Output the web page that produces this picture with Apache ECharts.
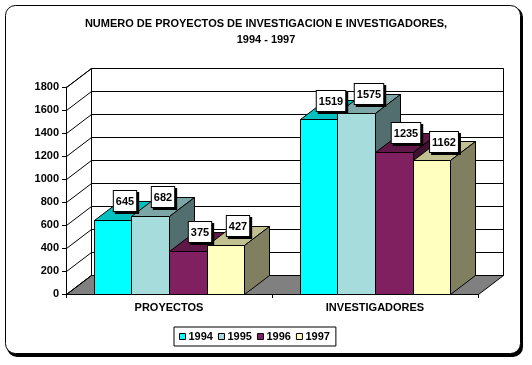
<!DOCTYPE html>
<html>
<head>
<meta charset="utf-8">
<script src="https://cdn.jsdelivr.net/npm/echarts@6/dist/echarts.min.js"></script>
<style>html,body{margin:0;padding:0;background:#fff}#c{width:532px;height:365px}</style>
</head>
<body>
<div id="c"></div>
<script>
const categories = ['PROYECTOS', 'INVESTIGADORES'];
const years = ['1994', '1995', '1996', '1997'];
const v1994 = [645, 1519];
const v1995 = [682, 1575];
const v1996 = [375, 1235];
const v1997 = [427, 1162];
const yTicks = [0, 200, 400, 600, 800, 1000, 1200, 1400, 1600, 1800];

const seriesValues = [v1994, v1995, v1996, v1997];
const frontColors = ['#00FFFF', '#A6DCDC', '#802060', '#FFFFC0'];
const topColors = ['#00C0C0', '#7CA5A5', '#601848', '#C0C090'];
const sideColors = ['#008080', '#536E6E', '#401030', '#808060'];

const FONT = "'Liberation Sans', Arial, sans-serif";
const DX = 25, DY = -19;
const px = v => Math.round(v) + 0.5;

const chart = echarts.init(document.getElementById('c'), null, {renderer: 'canvas'});

function wallRender(params, api) {
  const cs = params.coordSys;
  const v = api.value(1);
  const y = api.coord([0, v])[1];
  const L = cs.x, R = cs.x + cs.width, T = cs.y, B = cs.y + cs.height;
  const children = [];
  const stroke = {stroke: '#000', lineWidth: 1};
  if (params.dataIndex === 0) {
    children.push({type: 'rect', shape: {x: px(L + DX), y: px(T + DY), width: Math.round(cs.width), height: Math.round(cs.height)},
      style: Object.assign({fill: '#fff'}, stroke)});
    children.push({type: 'polygon', shape: {points: [[px(L), px(B)], [px(L), px(T)], [px(L + DX), px(T + DY)], [px(L + DX), px(B + DY)]]},
      style: Object.assign({fill: '#fff'}, stroke)});
    children.push({type: 'polygon', shape: {points: [[px(L), px(B)], [px(R), px(B)], [px(R + DX), px(B + DY)], [px(L + DX), px(B + DY)]]},
      style: Object.assign({fill: '#808080'}, stroke)});
  }
  children.push({type: 'line', shape: {x1: px(L), y1: px(y), x2: px(L + DX), y2: px(y + DY)}, style: stroke});
  children.push({type: 'line', shape: {x1: px(L + DX), y1: px(y + DY), x2: px(R + DX), y2: px(y + DY)}, style: stroke});
  return {type: 'group', children: children};
}

function makeBarRender(si) {
  return function (params, api) {
    const cat = api.value(0), val = api.value(1);
    const top = api.coord([cat, val]);
    const bot = api.coord([cat, 0]);
    const band = api.size([1, 0])[0];
    const bw = band * 0.183;
    const x0 = top[0] - 2 * bw + si * bw;
    const xa = px(x0), xb = px(x0 + bw), yt = px(top[1]), yb = px(bot[1]);
    const st = {stroke: '#000', lineWidth: 1};
    const lx = x0 + bw / 2 + DX / 2, ly = top[1] + DY / 2 + 1;
    const lbl = {text: String(val), fontFamily: FONT, fontSize: 11, fontWeight: 'bold', align: 'center', verticalAlign: 'bottom',
      padding: [4, 2, 3, 2], lineHeight: 13, borderWidth: 1};
    return {type: 'group', children: [
      {type: 'rect', shape: {x: xa, y: yt, width: xb - xa, height: yb - yt}, style: Object.assign({fill: frontColors[si]}, st)},
      {type: 'polygon', shape: {points: [[xa, yt], [xb, yt], [xb + DX, yt + DY], [xa + DX, yt + DY]]}, style: Object.assign({fill: topColors[si]}, st)},
      {type: 'polygon', shape: {points: [[xb, yt], [xb + DX, yt + DY], [xb + DX, yb + DY], [xb, yb]]}, style: Object.assign({fill: sideColors[si]}, st)},
      {type: 'text', x: Math.round(lx) + 2, y: Math.round(ly) + 2, z2: 100,
        style: Object.assign({}, lbl, {fill: '#000', backgroundColor: '#000', borderColor: '#000'})},
      {type: 'text', x: Math.round(lx), y: Math.round(ly), z2: 101,
        style: Object.assign({}, lbl, {fill: '#000', backgroundColor: '#fff', borderColor: '#000'})}
    ]};
  };
}

const series = [{
  type: 'custom',
  name: 'walls',
  z: 1,
  silent: true,
  renderItem: wallRender,
  data: yTicks.map(v => [0, v])
}];
years.forEach((y, i) => {
  series.push({
    type: 'custom',
    name: y,
    z: 2,
    itemStyle: {color: frontColors[i]},
    renderItem: makeBarRender(i),
    data: seriesValues[i].map((v, k) => [k, v])
  });
});

chart.setOption({
  animation: false,
  backgroundColor: '#fff',
  graphic: {elements: [
    {type: 'rect', z: -10, shape: {x: 7, y: 7, width: 516, height: 350, r: 10}, style: {fill: '#000'}},
    {type: 'rect', z: -9, shape: {x: 5.5, y: 5.5, width: 515, height: 348, r: 10}, style: {fill: '#fff', stroke: '#000', lineWidth: 1}}
  ]},
  title: {
    text: 'NUMERO DE PROYECTOS DE INVESTIGACION E INVESTIGADORES,\n1994 - 1997',
    left: 'center', top: 11,
    textStyle: {fontFamily: FONT, fontSize: 11, fontWeight: 'bold', color: '#000', lineHeight: 16, align: 'center'}
  },
  legend: {
    data: years,
    left: 174, top: 327,
    orient: 'horizontal',
    padding: [4, 6, 4, 5],
    itemWidth: 6, itemHeight: 6, itemGap: 5,
    borderColor: '#000', borderWidth: 1,
    backgroundColor: '#fff',
    selectedMode: false,
    icon: 'rect',
    itemStyle: {borderColor: '#000', borderWidth: 1},
    textStyle: {fontFamily: FONT, fontSize: 11, fontWeight: 'bold', color: '#000', padding: [0, 0, 0, -2]}
  },
  grid: {left: 66, right: 54, top: 87, bottom: 71, containLabel: false},
  xAxis: {
    type: 'category',
    data: categories,
    boundaryGap: true,
    axisLine: {show: true, lineStyle: {color: '#000', width: 1}},
    axisTick: {show: true, length: 4, lineStyle: {color: '#000'}},
    axisLabel: {fontFamily: FONT, fontSize: 11, fontWeight: 'bold', color: '#000', margin: 8},
    splitLine: {show: false}
  },
  yAxis: {
    type: 'value',
    min: 0, max: 1800, interval: 200,
    axisLine: {show: true, lineStyle: {color: '#000', width: 1}},
    axisTick: {show: true, length: 4, lineStyle: {color: '#000'}},
    axisLabel: {fontFamily: FONT, fontSize: 11, fontWeight: 'bold', color: '#000', margin: 7, formatter: v => String(v)},
    splitLine: {show: false}
  },
  series: series
});
</script>
</body>
</html>
